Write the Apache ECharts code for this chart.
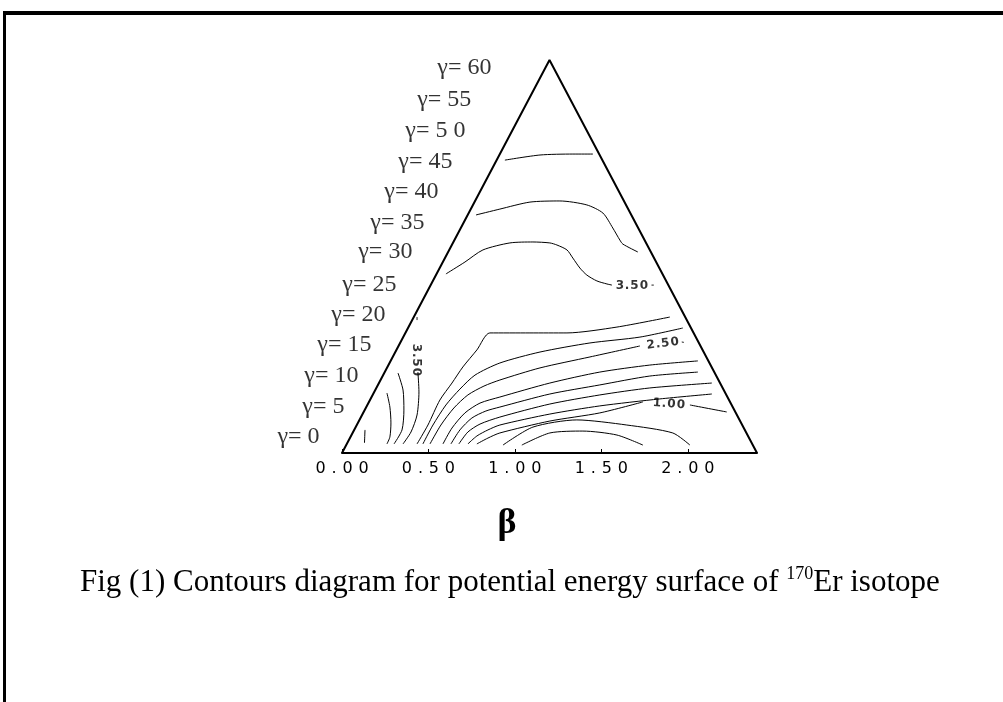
<!DOCTYPE html>
<html lang="en">
<head>
<meta charset="UTF-8">
<title>Contours diagram</title>
<script src="https://cdn.jsdelivr.net/npm/echarts@6/dist/echarts.min.js"></script>
<style>
  html, body { margin: 0; padding: 0; background: #fff; }
  #main { width: 1003px; height: 702px; }
</style>
</head>
<body>
<div id="main"></div>
<script>
// beta axis
var betaMax = 2.4;
var betaTicks = [0, 0.5, 1.0, 1.5, 2.0];

// gamma labels along the left side, bottom to top, [x, y] in the beta plane
var gammaLabels = ['γ= 0', 'γ= 5', 'γ= 10', 'γ= 15', 'γ= 20', 'γ= 25', 'γ= 30',
                   'γ= 35', 'γ= 40', 'γ= 45', 'γ= 5 0', 'γ= 55', 'γ= 60'];
var gammaLabelPos = [[-0.127, 0.085], [0.017, 0.243], [0.098, 0.407], [0.173, 0.571],
                     [0.254, 0.730], [0.318, 0.888], [0.410, 1.063], [0.480, 1.216],
                     [0.561, 1.380], [0.642, 1.539], [0.717, 1.703], [0.751, 1.867],
                     [0.867, 2.036]];

// contour lines, points as [beta*cos(gamma), beta*sin(gamma)]
var cTop = [[0.942, 1.549], [1.145, 1.576], [1.335, 1.581], [1.451, 1.581]];
var cUpper = [[0.775, 1.259], [0.913, 1.290], [1.087, 1.327], [1.260, 1.333], [1.416, 1.312],
              [1.509, 1.269], [1.566, 1.190], [1.607, 1.126], [1.624, 1.105], [1.711, 1.063]];
var c350 = [[0.601, 0.947], [0.711, 1.010], [0.815, 1.074], [0.971, 1.111], [1.104, 1.116],
            [1.202, 1.111], [1.243, 1.100], [1.301, 1.074], [1.335, 1.031], [1.376, 0.978],
            [1.416, 0.941], [1.474, 0.910], [1.532, 0.894], [1.561, 0.888]];
var c350b = [[1.790, 0.888], [1.803, 0.888]];
var cLeftA = [[0.260, 0.317], [0.277, 0.243], [0.283, 0.159], [0.277, 0.085], [0.260, 0.048]];
var cLeftB = [[0.324, 0.423], [0.353, 0.333], [0.358, 0.227], [0.347, 0.122], [0.301, 0.048]];
var cLeftC = [[0.439, 0.428], [0.445, 0.323], [0.434, 0.201], [0.399, 0.111], [0.353, 0.048]];
var cStub1 = [[0.133, 0.122], [0.130, 0.053]];
var cStub2 = [[0.434, 0.719], [0.434, 0.703]];
var cFan1 = [[0.434, 0.048], [0.497, 0.148], [0.566, 0.280], [0.636, 0.370], [0.699, 0.455],
             [0.780, 0.545], [0.855, 0.635], [1.087, 0.635], [1.301, 0.635], [1.590, 0.666], [1.896, 0.719]];
var cFan2 = [[0.468, 0.048], [0.526, 0.148], [0.601, 0.254], [0.682, 0.338], [0.769, 0.412],
             [0.913, 0.476], [1.145, 0.534], [1.434, 0.582], [1.723, 0.613], [1.971, 0.661]];
var cFan3 = [[0.509, 0.048], [0.572, 0.148], [0.647, 0.238], [0.728, 0.307], [0.821, 0.354],
             [0.913, 0.386], [1.145, 0.450], [1.434, 0.508], [1.723, 0.566]];
var cFan3b = [[1.965, 0.587], [1.977, 0.585]];
var cFan4 = [[0.584, 0.048], [0.636, 0.132], [0.711, 0.212], [0.798, 0.264], [0.913, 0.296],
             [1.202, 0.370], [1.491, 0.428], [1.780, 0.465], [2.058, 0.487]];
var cFan5 = [[0.630, 0.048], [0.682, 0.122], [0.751, 0.185], [0.832, 0.222], [0.913, 0.243],
             [1.202, 0.312], [1.491, 0.360], [1.780, 0.407], [2.058, 0.428]];
var cFan6 = [[0.676, 0.048], [0.728, 0.111], [0.798, 0.153], [0.913, 0.190], [1.202, 0.259],
             [1.491, 0.307], [1.780, 0.344], [2.139, 0.370]];
var cFan7 = [[0.728, 0.048], [0.780, 0.090], [0.844, 0.122], [0.913, 0.148], [1.202, 0.206],
             [1.491, 0.249], [1.838, 0.286], [2.139, 0.312]];
var cFan8 = [[0.780, 0.048], [0.844, 0.079], [0.913, 0.106], [1.202, 0.169], [1.491, 0.212], [1.740, 0.270]];
var cFan8b = [[2.012, 0.254], [2.225, 0.217]];
var cArcOuter = [[0.931, 0.042], [1.104, 0.137], [1.358, 0.175], [1.647, 0.148], [1.913, 0.106], [2.012, 0.042]];
var cArcInner = [[1.040, 0.042], [1.202, 0.106], [1.393, 0.116], [1.590, 0.095], [1.740, 0.042]];

// contour value labels
var levelLabels = ['3.50', '3.50', '2.50', '1.00'];
var levelLabelPos = [[1.676, 0.883], [0.428, 0.492], [1.855, 0.578], [1.890, 0.259]];
var levelLabelRot = [0, -90, 7, -4];

var contours = [cTop, cUpper, c350, c350b, cLeftA, cLeftB, cLeftC, cStub1, cStub2,
                cFan1, cFan2, cFan3, cFan3b, cFan4, cFan5, cFan6, cFan7, cFan8, cFan8b,
                cArcOuter, cArcInner];

var yMax = betaMax * Math.sin(Math.PI / 3);
var triangle = [[0, 0], [betaMax / 2, yMax], [betaMax, 0]];

// spread the characters of a number like the wide plot font
function spaced(s, d, p) {
    return s.split('').map(function (c) {
        return c === '.' ? '{' + p + '|.}' : '{' + d + '|' + c + '}';
    }).join('');
}

var myChart = echarts.init(document.getElementById('main'));

var series = contours.map(function (pts) {
    return {
        type: 'line',
        data: pts,
        showSymbol: false,
        smooth: 0.25,
        silent: true,
        lineStyle: { color: '#000', width: 1 }
    };
});

series.push({
    type: 'line',
    data: triangle,
    showSymbol: false,
    silent: true,
    lineStyle: { color: '#000', width: 2 }
});

series.push({
    type: 'scatter',
    clip: false,
    silent: true,
    symbolSize: 1,
    itemStyle: { color: 'transparent' },
    data: gammaLabelPos.map(function (p, i) { return { value: p, name: gammaLabels[i] }; }),
    label: {
        show: true,
        position: 'left',
        distance: 0,
        formatter: '{b}',
        fontFamily: 'Liberation Serif',
        fontSize: 24,
        color: '#000'
    }
});

series.push({
    type: 'scatter',
    clip: false,
    silent: true,
    symbolSize: 1,
    itemStyle: { color: 'transparent' },
    data: levelLabelPos.map(function (p, i) {
        return { value: p, name: levelLabels[i], label: { rotate: levelLabelRot[i] } };
    }),
    label: {
        show: true,
        position: 'inside',
        formatter: function (d) { return spaced(d.name, 'd', 'p'); },
        rich: {
            d: { width: 9.5, align: 'center', fontFamily: 'DejaVu Sans', fontWeight: 'bold', fontSize: 12, color: '#000' },
            p: { width: 5, align: 'center', fontFamily: 'DejaVu Sans', fontWeight: 'bold', fontSize: 12, color: '#000' }
        }
    }
});

var option = {
    animation: false,
    backgroundColor: '#fff',
    title: {
        text: '{n|Fig (1) Contours diagram for potential energy surface of }{s|170}{n|Er isotope}',
        left: 80,
        top: 565,
        padding: 0,
        textStyle: {
            rich: {
                n: { fontFamily: 'Liberation Serif', fontWeight: 'normal', fontSize: 31, color: '#000', lineHeight: 35 },
                s: { fontFamily: 'Liberation Serif', fontWeight: 'normal', fontSize: 18, color: '#000', lineHeight: 18, verticalAlign: 'top' }
            }
        }
    },
    graphic: [
        { type: 'line', silent: true, shape: { x1: 3, y1: 13, x2: 1003, y2: 13 }, style: { stroke: '#000', lineWidth: 4 } },
        { type: 'line', silent: true, shape: { x1: 4.5, y1: 11, x2: 4.5, y2: 702 }, style: { stroke: '#000', lineWidth: 3 } }
    ],
    grid: { left: 342, right: 246, top: 60, bottom: 249 },
    xAxis: {
        type: 'value',
        min: 0,
        max: betaMax,
        name: 'β',
        nameLocation: 'middle',
        nameGap: 53,
        nameTextStyle: {
            fontFamily: 'Liberation Serif',
            fontWeight: 'bold',
            fontSize: 36,
            color: '#000',
            padding: [0, 85, 0, 0]
        },
        splitLine: { show: false },
        axisLine: { lineStyle: { color: '#000', width: 2 } },
        axisTick: { inside: true, length: 4, customValues: betaTicks, lineStyle: { color: '#000', width: 1 } },
        axisLabel: {
            customValues: betaTicks,
            margin: 8,
            formatter: function (v) { return spaced(v.toFixed(2), 'd', 'p'); },
            rich: {
                d: { width: 16, align: 'center', fontFamily: 'DejaVu Sans', fontSize: 16, color: '#000' },
                p: { width: 11, align: 'center', fontFamily: 'DejaVu Sans', fontSize: 16, color: '#000' }
            }
        }
    },
    yAxis: {
        type: 'value',
        min: 0,
        max: yMax,
        show: false
    },
    series: series
};

myChart.setOption(option);
</script>
</body>
</html>
